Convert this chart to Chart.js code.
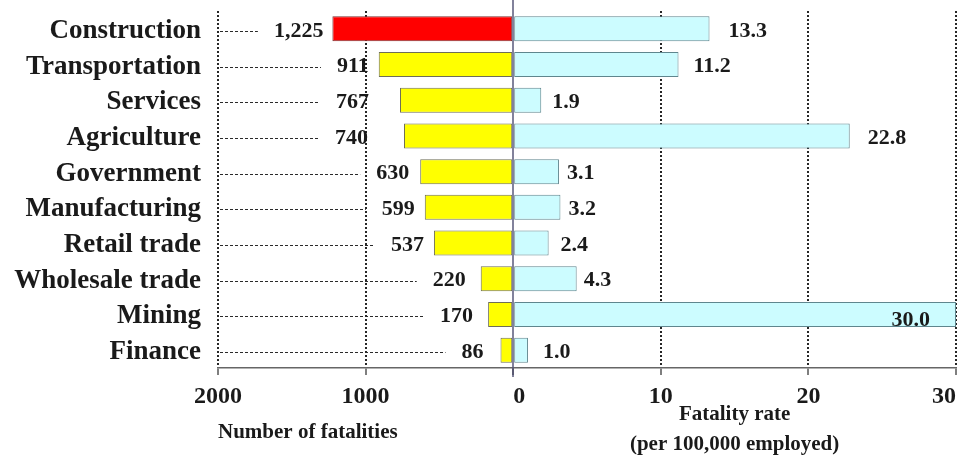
<!DOCTYPE html>
<html>
<head>
<meta charset="utf-8">
<script src="https://cdn.jsdelivr.net/npm/chart.js@4/dist/chart.umd.min.js"></script>
<style>
  html, body { margin: 0; padding: 0; background: #ffffff; }
  #wrap { width: 959px; height: 460px; }
</style>
</head>
<body>
<div id="wrap"><canvas id="chart" width="959" height="460"></canvas></div>
<script>
// Fatal occupational injuries by industry
const industries = ['Construction', 'Transportation', 'Services', 'Agriculture', 'Government',
                    'Manufacturing', 'Retail trade', 'Wholesale trade', 'Mining', 'Finance'];
const fatalities = [1225, 911, 767, 740, 630, 599, 537, 220, 170, 86];
const fatalityRates = [13.3, 11.2, 1.9, 22.8, 3.1, 3.2, 2.4, 4.3, 30.0, 1.0];
const fatalityTicks = [0, 1000, 2000];
const rateTicks = [0, 10, 20, 30];
const fatalityTitle = 'Number of fatalities';
const rateTitle = ['Fatality rate', '(per 100,000 employed)'];

const SERIF = "'Liberation Serif', 'Times New Roman', serif";
const INK = '#1a1a1a';

// Value labels, dashed leaders, centre divider and the left axis caption
const annotate = {
  id: 'annotate',
  afterDatasetsDraw(chart, args, opts) {
    const { ctx, chartArea, scales: { y, xL, xR } } = chart;
    ctx.save();
    ctx.font = `bold ${opts.size}px ${SERIF}`;
    ctx.fillStyle = INK;
    ctx.textBaseline = 'middle';
    industries.forEach((name, i) => {
      const cy = y.getPixelForValue(i) + 2;

      // fatalities: number just outside the bar end, leader runs from the axis edge
      const endL = xL.getPixelForValue(fatalities[i]);
      const txt = fatalities[i].toLocaleString('en-US');
      const right = endL - opts.leftGap[i];
      const w = ctx.measureText(txt).width;
      ctx.textAlign = 'right';
      ctx.fillText(txt, right, cy);
      ctx.save();
      ctx.setLineDash([3, 2]);
      ctx.strokeStyle = '#2a2a2a';
      ctx.lineWidth = 1;
      ctx.beginPath();
      ctx.moveTo(chartArea.left + 2, Math.round(cy) + 0.5);
      ctx.lineTo(right - w - 16, Math.round(cy) + 0.5);
      ctx.stroke();
      ctx.restore();

      // rates: after the bar, or inside it when the bar fills the axis
      const endR = xR.getPixelForValue(fatalityRates[i]);
      const rt = fatalityRates[i].toFixed(1);
      const rw = ctx.measureText(rt).width;
      if (endR + opts.rightGap[i] + rw > chartArea.right) {
        ctx.textAlign = 'right';
        ctx.fillText(rt, endR - 26, cy + 4);
      } else {
        ctx.textAlign = 'left';
        ctx.fillText(rt, endR + opts.rightGap[i], cy);
      }
    });

    // solid divider at zero
    const x0 = Math.round(xR.getPixelForValue(0));
    ctx.strokeStyle = '#58587a';
    ctx.lineWidth = 1.5;
    ctx.beginPath();
    ctx.moveTo(x0, 0);
    ctx.lineTo(x0, chartArea.bottom + 9);
    ctx.stroke();

    // caption under the fatalities half, starting at its left edge
    ctx.font = `bold 21px ${SERIF}`;
    ctx.textAlign = 'left';
    ctx.textBaseline = 'middle';
    ctx.fillText(fatalityTitle, xL.left, xL.bottom - 27);
    ctx.restore();
  }
};

const tickFont = { family: SERIF, size: 24, weight: 'bold' };
const gridStyle = {
  color: (c) => (c.tick && c.tick.value === 0 ? 'rgba(0,0,0,0)' : '#262626'),
  lineWidth: 2,
  tickColor: '#555555',
  tickWidth: 1.5,
  tickLength: 7,
  tickBorderDash: []
};
const borderStyle = { display: true, color: '#666666', width: 1.5, dash: [2, 2] };

new Chart(document.getElementById('chart'), {
  type: 'bar',
  data: {
    labels: industries,
    datasets: [
      {
        label: fatalityTitle,
        data: fatalities,
        xAxisID: 'xL',
        backgroundColor: fatalities.map((v, i) => (i === 0 ? '#ff0000' : '#ffff00')),
        borderColor: fatalities.map((v, i) => (i === 0 ? '#7a3030' : '#6e6e58')),
        borderWidth: 1,
        borderSkipped: false,
        grouped: false,
        categoryPercentage: 0.7,
        barPercentage: 1
      },
      {
        label: rateTitle.join(' '),
        data: fatalityRates,
        xAxisID: 'xR',
        backgroundColor: '#ccfcff',
        borderColor: '#5f868e',
        borderWidth: 1,
        borderSkipped: false,
        grouped: false,
        categoryPercentage: 0.7,
        barPercentage: 1
      }
    ]
  },
  options: {
    indexAxis: 'y',
    responsive: false,
    animation: false,
    layout: { padding: { left: 0, right: 3, top: 11, bottom: 0 } },
    plugins: {
      legend: { display: false },
      tooltip: { enabled: false },
      annotate: {
        size: 22,
        leftGap: [9, 10, 31, 36, 11, 10, 10, 15, 15, 17],
        rightGap: [19, 15, 11, 18, 8, 8, 12, 7, 12, 15]
      }
    },
    scales: {
      y: {
        position: 'left',
        grid: { display: false, drawTicks: false },
        border: { display: false },
        ticks: {
          font: { family: SERIF, size: 27, weight: 'bold' },
          color: INK,
          padding: 17,
          labelOffset: 2,
          autoSkip: false
        },
        afterFit: (s) => { s.width = 218; s.paddingTop = 0; s.paddingBottom = 0; }
      },
      xL: {
        type: 'linear',
        position: 'bottom',
        stack: 'halves',
        stackWeight: 2,
        reverse: true,
        min: 0,
        max: 2000,
        afterBuildTicks: (s) => { s.ticks = fatalityTicks.map((v) => ({ value: v })); },
        afterFit: (s) => { s.height = 92; s.paddingLeft = 0; s.paddingRight = 0; },
        grid: gridStyle,
        border: borderStyle,
        ticks: {
          font: tickFont,
          color: INK,
          padding: 7,
          autoSkip: false,
          maxRotation: 0,
          callback: (v) => (v === 0 ? '' : String(v))
        },
        title: { display: false }
      },
      xR: {
        type: 'linear',
        position: 'bottom',
        stack: 'halves',
        stackWeight: 3,
        min: 0,
        max: 30,
        afterBuildTicks: (s) => { s.ticks = rateTicks.map((v) => ({ value: v })); },
        afterFit: (s) => { s.height = 92; s.paddingLeft = 0; s.paddingRight = 0; },
        grid: gridStyle,
        border: borderStyle,
        ticks: {
          font: tickFont,
          color: INK,
          padding: 7,
          align: 'inner',
          autoSkip: false,
          maxRotation: 0,
          callback: (v) => String(v)
        },
        title: {
          display: true,
          text: rateTitle,
          color: INK,
          font: { family: SERIF, size: 21, weight: 'bold', lineHeight: 1.43 },
          padding: { top: 0, bottom: 0 }
        }
      }
    }
  },
  plugins: [annotate]
});
</script>
</body>
</html>
